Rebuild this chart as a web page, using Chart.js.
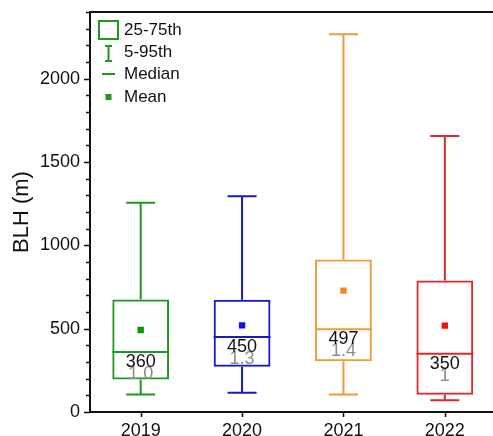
<!DOCTYPE html>
<html>
<head>
<meta charset="utf-8">
<script src="https://cdn.jsdelivr.net/npm/chart.js@4/dist/chart.umd.min.js"></script>
<style>
  html, body { margin: 0; padding: 0; background: #fff; }
  #wrap { width: 493px; height: 436px; overflow: hidden; }
</style>
</head>
<body>
<div id="wrap"><canvas id="c" width="500" height="436"></canvas></div>
<script>
// Boundary-layer height statistics per year
const years = ['2019', '2020', '2021', '2022'];
const p5 = [105, 115, 105, 71];
const q1 = [195, 272, 304, 103];
const medians = [360, 450, 497, 350];
const q3 = [675, 674, 915, 789];
const p95 = [1255, 1295, 2266, 1656];
const means = [492, 520, 728, 518];
const ratioLabels = ['1.0', '1.3', '1.4', '1'];
const legendLabels = ['25-75th', '5-95th', 'Median', 'Mean'];

const boxColors = ['#1f981f', '#1818c4', '#ee9c38', '#dc2a2a'];
const meanColors = ['#0c960c', '#1010ee', '#f08a1c', '#f01212'];
const legendColor = '#1f981f';
const FONT = '"Liberation Sans", Arial, sans-serif';

// Whiskers, medians, value labels, axis ticks, top frame and legend
const boxExtras = {
  id: 'boxExtras',
  afterDatasetsDraw(chart) {
    const ctx = chart.ctx;
    const y = chart.scales.y;
    const meta = chart.getDatasetMeta(0);
    ctx.save();
    meta.data.forEach((bar, i) => {
      const cx = bar.x;
      const half = bar.width / 2;
      const capHalf = 14.5;
      ctx.strokeStyle = boxColors[i];
      ctx.lineWidth = 2;
      ctx.beginPath();
      // upper whisker
      ctx.moveTo(cx, y.getPixelForValue(q3[i]));
      ctx.lineTo(cx, y.getPixelForValue(p95[i]));
      ctx.moveTo(cx - capHalf, y.getPixelForValue(p95[i]));
      ctx.lineTo(cx + capHalf, y.getPixelForValue(p95[i]));
      // lower whisker
      ctx.moveTo(cx, y.getPixelForValue(q1[i]));
      ctx.lineTo(cx, y.getPixelForValue(p5[i]));
      ctx.moveTo(cx - capHalf, y.getPixelForValue(p5[i]));
      ctx.lineTo(cx + capHalf, y.getPixelForValue(p5[i]));
      // median
      const my = y.getPixelForValue(medians[i]);
      ctx.moveTo(cx - half, my);
      ctx.lineTo(cx + half, my);
      ctx.stroke();

      ctx.textAlign = 'center';
      ctx.textBaseline = 'middle';
      ctx.font = '18px ' + FONT;
      ctx.fillStyle = '#8c8c8c';
      ctx.fillText(ratioLabels[i], cx, my + 22);
      ctx.fillStyle = '#111';
      ctx.fillText(String(medians[i]), cx, my + 10);
    });
    ctx.restore();
  },
  afterDraw(chart) {
    const ctx = chart.ctx;
    const area = chart.chartArea;
    const y = chart.scales.y;
    const x = chart.scales.x;
    ctx.save();
    ctx.strokeStyle = '#111';
    ctx.lineWidth = 1.5;
    ctx.beginPath();
    for (let v = 0; v <= 2400; v += 100) {
      const py = Math.round(y.getPixelForValue(v)) + 0.5;
      const len = v % 500 === 0 ? 6 : 4;
      ctx.moveTo(area.left - len, py);
      ctx.lineTo(area.left, py);
    }
    years.forEach((_, i) => {
      const px = Math.round(x.getPixelForValue(i)) + 0.5;
      ctx.moveTo(px, area.bottom);
      ctx.lineTo(px, area.bottom + 5);
    });
    ctx.stroke();

    // top frame line
    ctx.lineWidth = 2;
    ctx.beginPath();
    ctx.moveTo(area.left - 1, area.top);
    ctx.lineTo(chart.width, area.top);
    ctx.stroke();

    // y-axis title
    ctx.fillStyle = '#111';
    ctx.font = '22px ' + FONT;
    ctx.textAlign = 'center';
    ctx.textBaseline = 'middle';
    ctx.translate(22, (area.top + area.bottom) / 2);
    ctx.rotate(-Math.PI / 2);
    ctx.fillText('BLH (m)', 0, 0);
    ctx.restore();

    // legend
    ctx.save();
    ctx.strokeStyle = legendColor;
    ctx.fillStyle = legendColor;
    ctx.lineWidth = 2;
    ctx.strokeRect(99, 21, 19, 18);
    ctx.beginPath();
    ctx.moveTo(108.5, 46); ctx.lineTo(108.5, 61);
    ctx.moveTo(105, 46); ctx.lineTo(112, 46);
    ctx.moveTo(105, 61); ctx.lineTo(112, 61);
    ctx.moveTo(102, 74); ctx.lineTo(115, 74);
    ctx.stroke();
    ctx.fillRect(105.5, 94, 6, 6);
    ctx.fillStyle = '#111';
    ctx.font = '17px ' + FONT;
    ctx.textAlign = 'left';
    ctx.textBaseline = 'middle';
    const rows = [30, 52, 74, 97];
    legendLabels.forEach((t, k) => ctx.fillText(t, 124, rows[k]));
    ctx.restore();
  }
};

new Chart(document.getElementById('c'), {
  type: 'bar',
  data: {
    labels: years,
    datasets: [
      {
        label: 'IQR',
        data: years.map((_, i) => [q1[i], q3[i]]),
        backgroundColor: 'rgba(0,0,0,0)',
        borderColor: boxColors,
        borderWidth: 2,
        borderSkipped: false,
        categoryPercentage: 1,
        barPercentage: 0.56
      },
      {
        type: 'line',
        label: 'Mean',
        data: means,
        showLine: false,
        pointStyle: 'rect',
        pointRadius: 4.5,
        pointBorderWidth: 0,
        pointBackgroundColor: meanColors,
        pointBorderColor: meanColors
      }
    ]
  },
  options: {
    responsive: false,
    animation: false,
    layout: { padding: { top: 12, right: 2, left: 0, bottom: 0 } },
    plugins: { legend: { display: false }, tooltip: { enabled: false } },
    scales: {
      x: {
        offset: true,
        grid: { display: false, drawTicks: false, tickLength: 0 },
        border: { display: true, color: '#111', width: 2 },
        ticks: { color: '#111', padding: 8, font: { family: FONT, size: 18 } },
        afterFit(s) { s.height = 24; s.paddingLeft = 0; s.paddingRight = 0; }
      },
      y: {
        min: 0,
        max: 2400,
        grid: { display: false, drawTicks: false, tickLength: 0 },
        border: { display: true, color: '#111', width: 2 },
        ticks: {
          stepSize: 100,
          autoSkip: false,
          color: '#111',
          padding: 10,
          font: { family: FONT, size: 18 },
          callback: v => (v % 500 === 0 ? String(v) : '')
        },
        afterFit(s) { s.width = 90; s.paddingTop = 0; s.paddingBottom = 0; }
      }
    }
  },
  plugins: [boxExtras]
});
</script>
</body>
</html>
